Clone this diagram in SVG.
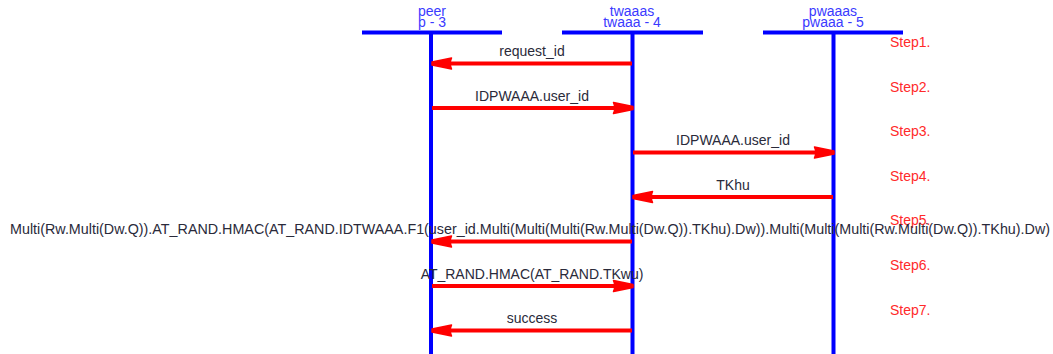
<svg xmlns="http://www.w3.org/2000/svg" width="1053" height="354" viewBox="0 0 1053 354">
  <style>
    text { font-family: "Liberation Sans", Arial, sans-serif; font-size: 14px; }
    .head { fill: #3a3aff; text-anchor: middle; }
    .bar { stroke: #0000ff; stroke-width: 4; fill: none; }
    .life { stroke: #0000ff; stroke-width: 4; fill: none; }
    .msg { stroke: #ff0000; stroke-width: 4; fill: none; }
    .lbl { fill: #2a2a3a; text-anchor: middle; }
    .step { fill: #ff2a2a; }
  </style>
  <defs>
    <marker id="arrow" viewBox="0 0 22 14" refX="21" refY="7" markerWidth="22" markerHeight="14" markerUnits="userSpaceOnUse" orient="auto">
      <path d="M1.5,1.5 L21,5.5 L21,8.5 L1.5,12.5 Q4,7 1.5,1.5 Z" fill="#ff0000" stroke="#ff0000" stroke-width="1.5" stroke-linejoin="round"/>
    </marker>
  </defs>

  <!-- participants -->
  <g id="peer">
    <text class="head" x="432" y="15.5">peer</text>
    <text class="head" x="432" y="27">p - 3</text>
    <line class="bar" x1="362" y1="32.5" x2="502" y2="32.5"/>
    <line class="life" x1="431" y1="32" x2="431" y2="354"/>
  </g>
  <g id="twaaas">
    <text class="head" x="632" y="15.5">twaaas</text>
    <text class="head" x="632" y="27">twaaa - 4</text>
    <line class="bar" x1="562" y1="32.5" x2="703" y2="32.5"/>
    <line class="life" x1="632.5" y1="32" x2="632.5" y2="354"/>
  </g>
  <g id="pwaaas">
    <text class="head" x="833" y="15.5">pwaaas</text>
    <text class="head" x="833" y="27">pwaaa - 5</text>
    <line class="bar" x1="763" y1="32.5" x2="903" y2="32.5"/>
    <line class="life" x1="833.5" y1="32" x2="833.5" y2="354"/>
  </g>

  <!-- step annotations -->
  <g id="steps">
    <text class="step" x="890" y="47">Step1.</text>
    <text class="step" x="890" y="92">Step2.</text>
    <text class="step" x="890" y="136">Step3.</text>
    <text class="step" x="890" y="181">Step4.</text>
    <text class="step" x="890" y="225">Step5.</text>
    <text class="step" x="890" y="270">Step6.</text>
    <text class="step" x="890" y="315">Step7.</text>
  </g>

  <!-- messages -->
  <g id="connectors">
    <line class="msg" x1="632" y1="63.5" x2="432" y2="63.5" marker-end="url(#arrow)"/>
    <text class="lbl" x="532" y="56">request_id</text>

    <line class="msg" x1="432" y1="108" x2="633" y2="108" marker-end="url(#arrow)"/>
    <text class="lbl" x="532" y="101">IDPWAAA.user_id</text>

    <line class="msg" x1="633" y1="152.5" x2="834" y2="152.5" marker-end="url(#arrow)"/>
    <text class="lbl" x="733" y="145">IDPWAAA.user_id</text>

    <line class="msg" x1="833" y1="197" x2="633" y2="197" marker-end="url(#arrow)"/>
    <text class="lbl" x="733" y="190">TKhu</text>

    <line class="msg" x1="632" y1="241.5" x2="432" y2="241.5" marker-end="url(#arrow)"/>
    <text x="10" y="234" fill="#2a2a3a" textLength="1040" lengthAdjust="spacingAndGlyphs">Multi(Rw.Multi(Dw.Q)).AT_RAND.HMAC(AT_RAND.IDTWAAA.F1(user_id.Multi(Multi(Multi(Rw.Multi(Dw.Q)).TKhu).Dw)).Multi(Multi(Multi(Rw.Multi(Dw.Q)).TKhu).Dw)</text>

    <line class="msg" x1="432" y1="286" x2="633" y2="286" marker-end="url(#arrow)"/>
    <text class="lbl" x="532" y="279">AT_RAND.HMAC(AT_RAND.TKwu)</text>

    <line class="msg" x1="632" y1="330.5" x2="432" y2="330.5" marker-end="url(#arrow)"/>
    <text class="lbl" x="532" y="323">success</text>
  </g>
</svg>
